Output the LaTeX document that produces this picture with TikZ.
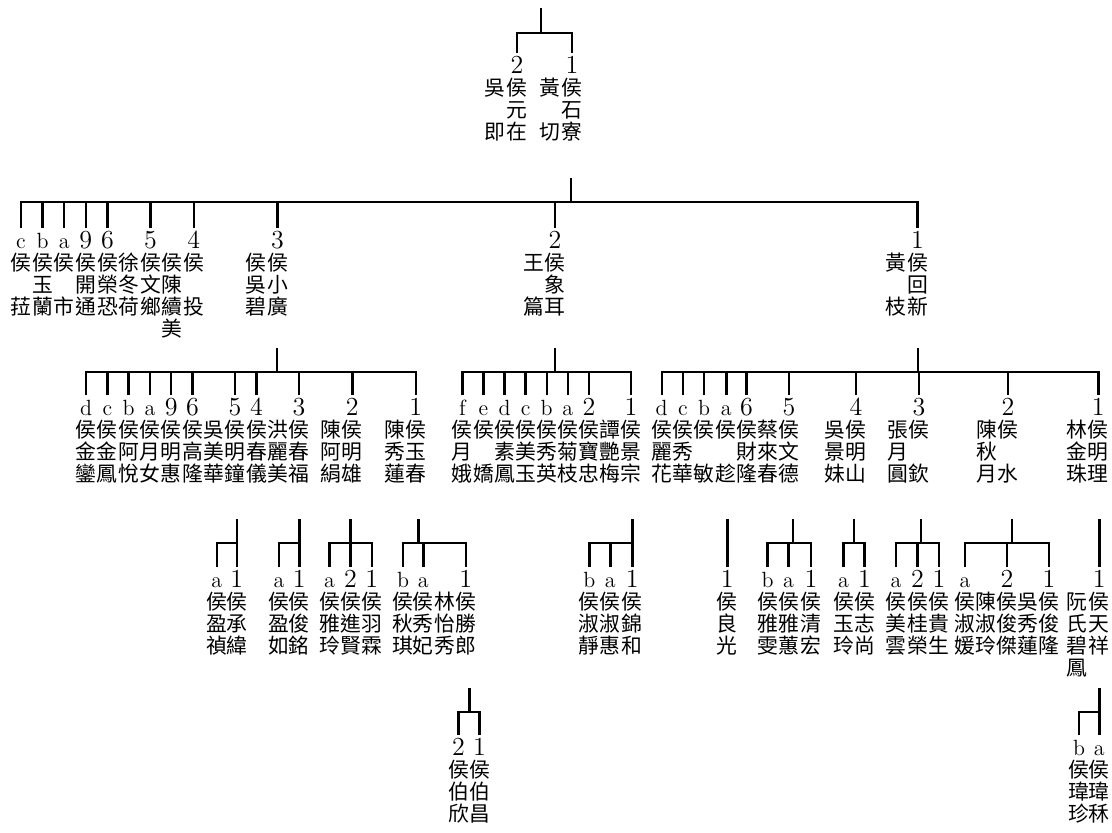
\documentclass[tikz,border=0pt]{standalone}
\usepackage{fontspec}
\newfontfamily\cjk{Noto Sans CJK TC}
\newcommand\kinlab[1]{\rule{0pt}{10.4pt}#1}
\newcommand\kdig[1]{{\normalfont\fontsize{13}{10.9}\selectfont #1}}
\newcommand\klet[1]{{\normalfont\fontsize{11}{10.9}\selectfont #1}}

\begin{document}
\begin{tikzpicture}[x=0.5pt,y=-0.5pt,line width=1.2pt,
	kin/.style={anchor=north,inner sep=0pt,outer sep=0pt,align=center,font=\cjk\fontsize{10.4}{10.9}\selectfont}]
	
	\useasboundingbox (0,0) rectangle (1112,832);
	
	% generation 0
	\foreach \x/\n/\lbl/\txt in {495/A2w/{}/{吳\\　\\即},517/A2/\kdig{2}/{侯\\元\\在},
		550/A1w/{}/{黃\\　\\切},572/A1/\kdig{1}/{侯\\石\\寮}}
	\node[kin] (\n) at (\x,53) {\kinlab{\lbl}\\\txt};
	
	% generation 1
	\foreach \x/\n/\lbl/\txt in {21/Bc/\klet{c}/{侯\\　\\菈},42.6/Bb/\klet{b}/{侯\\玉\\蘭},
		64.2/Ba/\klet{a}/{侯\\　\\市},85.8/B9/\kdig{9}/{侯\\開\\通},107.4/B6/\kdig{6}/{侯\\榮\\恐},
		129/B5w/{}/{徐\\冬\\荷},150.6/B5/\kdig{5}/{侯\\文\\鄉},172.2/B4w/{}/{侯\\陳\\續\\美},
		193.8/B4/\kdig{4}/{侯\\　\\投},256/B3w/{}/{侯\\吳\\碧},277.5/B3/\kdig{3}/{侯\\小\\廣},
		533.5/B2w/{}/{王\\　\\篇},555/B2/\kdig{2}/{侯\\象\\耳},
		896/B1w/{}/{黃\\　\\枝},917.5/B1/\kdig{1}/{侯\\回\\新}}
	\node[kin] (\n) at (\x,228) {\kinlab{\lbl}\\\txt};
	
	% generation 2
	\foreach \x/\n/\lbl/\txt in {86/C3d/\klet{d}/{侯\\金\\鑾},107.3/C3c/\klet{c}/{侯\\金\\鳳},
		128.6/C3b/\klet{b}/{侯\\阿\\悅},149.9/C3a/\klet{a}/{侯\\月\\女},171.2/C39/\kdig{9}/{侯\\明\\惠},
		192.5/C36/\kdig{6}/{侯\\高\\隆},213.8/C35w/{}/{吳\\美\\華},235.1/C35/\kdig{5}/{侯\\明\\鐘},
		256.4/C34/\kdig{4}/{侯\\春\\儀},277.7/C33w/{}/{洪\\麗\\美},299/C33/\kdig{3}/{侯\\春\\福},
		331/C32w/{}/{陳\\阿\\絹},352.3/C32/\kdig{2}/{侯\\明\\雄},
		394.5/C31w/{}/{陳\\秀\\蓮},415.8/C31/\kdig{1}/{侯\\玉\\春}}
	\node[kin] (\n) at (\x,395) {\kinlab{\lbl}\\\txt};
	\foreach \x/\n/\lbl/\txt in {462.3/C2f/\klet{f}/{侯\\月\\娥},483.4/C2e/\klet{e}/{侯\\　\\嬌},
		504.5/C2d/\klet{d}/{侯\\素\\鳳},525.6/C2c/\klet{c}/{侯\\美\\玉},546.7/C2b/\klet{b}/{侯\\秀\\英},
		567.8/C2a/\klet{a}/{侯\\菊\\枝},588.9/C22/\kdig{2}/{侯\\寶\\忠},
		610/C21w/{}/{譚\\艷\\梅},631.1/C21/\kdig{1}/{侯\\景\\宗}}
	\node[kin] (\n) at (\x,395) {\kinlab{\lbl}\\\txt};
	\foreach \x/\n/\lbl/\txt in {661.7/C1d/\klet{d}/{侯\\麗\\花},682.9/C1c/\klet{c}/{侯\\秀\\華},
		704.1/C1b/\klet{b}/{侯\\　\\敏},726.3/C1a/\klet{a}/{侯\\　\\趁},746.5/C16/\kdig{6}/{侯\\財\\隆},
		767.7/C15w/{}/{蔡\\來\\春},788.9/C15/\kdig{5}/{侯\\文\\德},
		835/C14w/{}/{吳\\景\\妹},856/C14/\kdig{4}/{侯\\明\\山},
		898/C13w/{}/{張\\月\\圓},919/C13/\kdig{3}/{侯\\　\\欽},
		987/C12w/{}/{陳\\秋\\月},1008/C12/\kdig{2}/{侯\\　\\水},
		1077/C11w/{}/{林\\金\\珠},1098.3/C11/\kdig{1}/{侯\\明\\理}}
	\node[kin] (\n) at (\x,395) {\kinlab{\lbl}\\\txt};
	
	% generation 3
	\foreach \x/\n/\lbl/\txt in {216.7/D35a/\klet{a}/{侯\\盈\\禎},236.7/D351/\kdig{1}/{侯\\承\\緯},
		279/D33a/\klet{a}/{侯\\盈\\如},299.3/D331/\kdig{1}/{侯\\俊\\銘},
		329.5/D32a/\klet{a}/{侯\\雅\\玲},350.5/D322/\kdig{2}/{侯\\進\\賢},371.7/D321/\kdig{1}/{侯\\羽\\霖},
		403/D31b/\klet{b}/{侯\\秋\\琪},423.3/D31a/\klet{a}/{侯\\秀\\妃},
		444.5/D311w/{}/{林\\怡\\秀},465.7/D311/\kdig{1}/{侯\\勝\\郎},
		589.3/D21b/\klet{b}/{侯\\淑\\靜},610.3/D21a/\klet{a}/{侯\\淑\\惠},632.3/D211/\kdig{1}/{侯\\錦\\和}}
	\node[kin] (\n) at (\x,567) {\kinlab{\lbl}\\\txt};
	\foreach \x/\n/\lbl/\txt in {727.3/D1a1/\kdig{1}/{侯\\良\\光},
		767.5/D15b/\klet{b}/{侯\\雅\\雯},788.5/D15a/\klet{a}/{侯\\雅\\蕙},811/D151/\kdig{1}/{侯\\清\\宏},
		843.5/D14a/\klet{a}/{侯\\玉\\玲},864.5/D141/\kdig{1}/{侯\\志\\尚},
		896/D13a/\klet{a}/{侯\\美\\雲},917.5/D132/\kdig{2}/{侯\\桂\\榮},939/D131/\kdig{1}/{侯\\貴\\生},
		965/D12a/\klet{a}/{侯\\淑\\媛},986/D122w/{}/{陳\\淑\\玲},1007/D122/\kdig{2}/{侯\\俊\\傑},
		1028/D121w/{}/{吳\\秀\\蓮},1049/D121/\kdig{1}/{侯\\俊\\隆},
		1077/D111w/{}/{阮\\氏\\碧\\鳳},1099.3/D111/\kdig{1}/{侯\\天\\祥}}
	\node[kin] (\n) at (\x,567) {\kinlab{\lbl}\\\txt};
	
	% generation 4
	\foreach \x/\n/\lbl/\txt in {458.5/E3112/\kdig{2}/{侯\\伯\\欣},479.5/E3111/\kdig{1}/{侯\\伯\\昌},
		1079/E111b/\klet{b}/{侯\\瑋\\珍},1099.3/E111a/\klet{a}/{侯\\瑋\\秝}}
	\node[kin] (\n) at (\x,735) {\kinlab{\lbl}\\\txt};
	
	% family lines
	\coordinate (root) at (541,8);
	\coordinate (rootbar) at (541,33);
	\draw (root) -- (rootbar);
	\draw (A2.north) |- (rootbar) -| (A1.north);
	
	\coordinate (A1top) at (570.7,178);
	\coordinate (A1bar) at (570.7,202);
	\draw (A1top) -- (A1bar);
	\draw (Bc.north) |- (A1bar) -| (B1.north);
	\foreach \c in {Bb,Ba,B9,B6,B5,B4,B3,B2}
	\draw (\c.north) -- (\c.north |- A1bar);
	
	\coordinate (B3top) at (277,348);
	\coordinate (B3bar) at (277,372);
	\draw (B3top) -- (B3bar);
	\draw (C3d.north) |- (B3bar) -| (C31.north);
	\foreach \c in {C3c,C3b,C3a,C39,C36,C35,C34,C33,C32}
	\draw (\c.north) -- (\c.north |- B3bar);
	
	\coordinate (B2top) at (555,348);
	\coordinate (B2bar) at (555,372);
	\draw (B2top) -- (B2bar);
	\draw (C2f.north) |- (B2bar) -| (C21.north);
	\foreach \c in {C2e,C2d,C2c,C2b,C2a,C22}
	\draw (\c.north) -- (\c.north |- B2bar);
	
	\coordinate (B1top) at (917.7,348);
	\coordinate (B1bar) at (917.7,372);
	\draw (B1top) -- (B1bar);
	\draw (C1d.north) |- (B1bar) -| (C11.north);
	\foreach \c in {C1c,C1b,C1a,C16,C15,C14,C13,C12}
	\draw (\c.north) -- (\c.north |- B1bar);
	
	\foreach \p/\x/\l/\r in {C35/236.7/D35a/D351,C33/299.3/D33a/D331,C32/350.5/D32a/D321,
		C31/418.3/D31b/D311,C21/632.3/D21b/D211,C15/792.7/D15b/D151,C14/854/D14a/D141,
		C13/920.7/D13a/D131,C12/1011.7/D12a/D121}{
		\coordinate (\p top) at (\x,519);
		\coordinate (\p bar) at (\x,543);
		\draw (\p top) -- (\p bar);
		\draw (\l.north) |- (\p bar) -| (\r.north);
	}
	\foreach \c/\p in {D322/C32,D31a/C31,D21a/C21,D15a/C15,D132/C13,D122/C12}
	\draw (\c.north) -- (\c.north |- \p bar);
	
	\coordinate (C1atop) at (727.3,519);
	\draw (C1atop) -- (D1a1.north);
	\coordinate (C11top) at (1099.3,519);
	\draw (C11top) -- (D111.north);
	
	\coordinate (D311top) at (469.3,688);
	\coordinate (D311bar) at (469.3,712);
	\draw (D311top) -- (D311bar);
	\draw (E3112.north) |- (D311bar) -| (E3111.north);
	
	\coordinate (D111top) at (1099.3,688);
	\coordinate (D111bar) at (1099.3,712);
	\draw (D111top) -- (D111bar);
	\draw (E111b.north) |- (D111bar) -| (E111a.north);
	
\end{tikzpicture}
\end{document}
